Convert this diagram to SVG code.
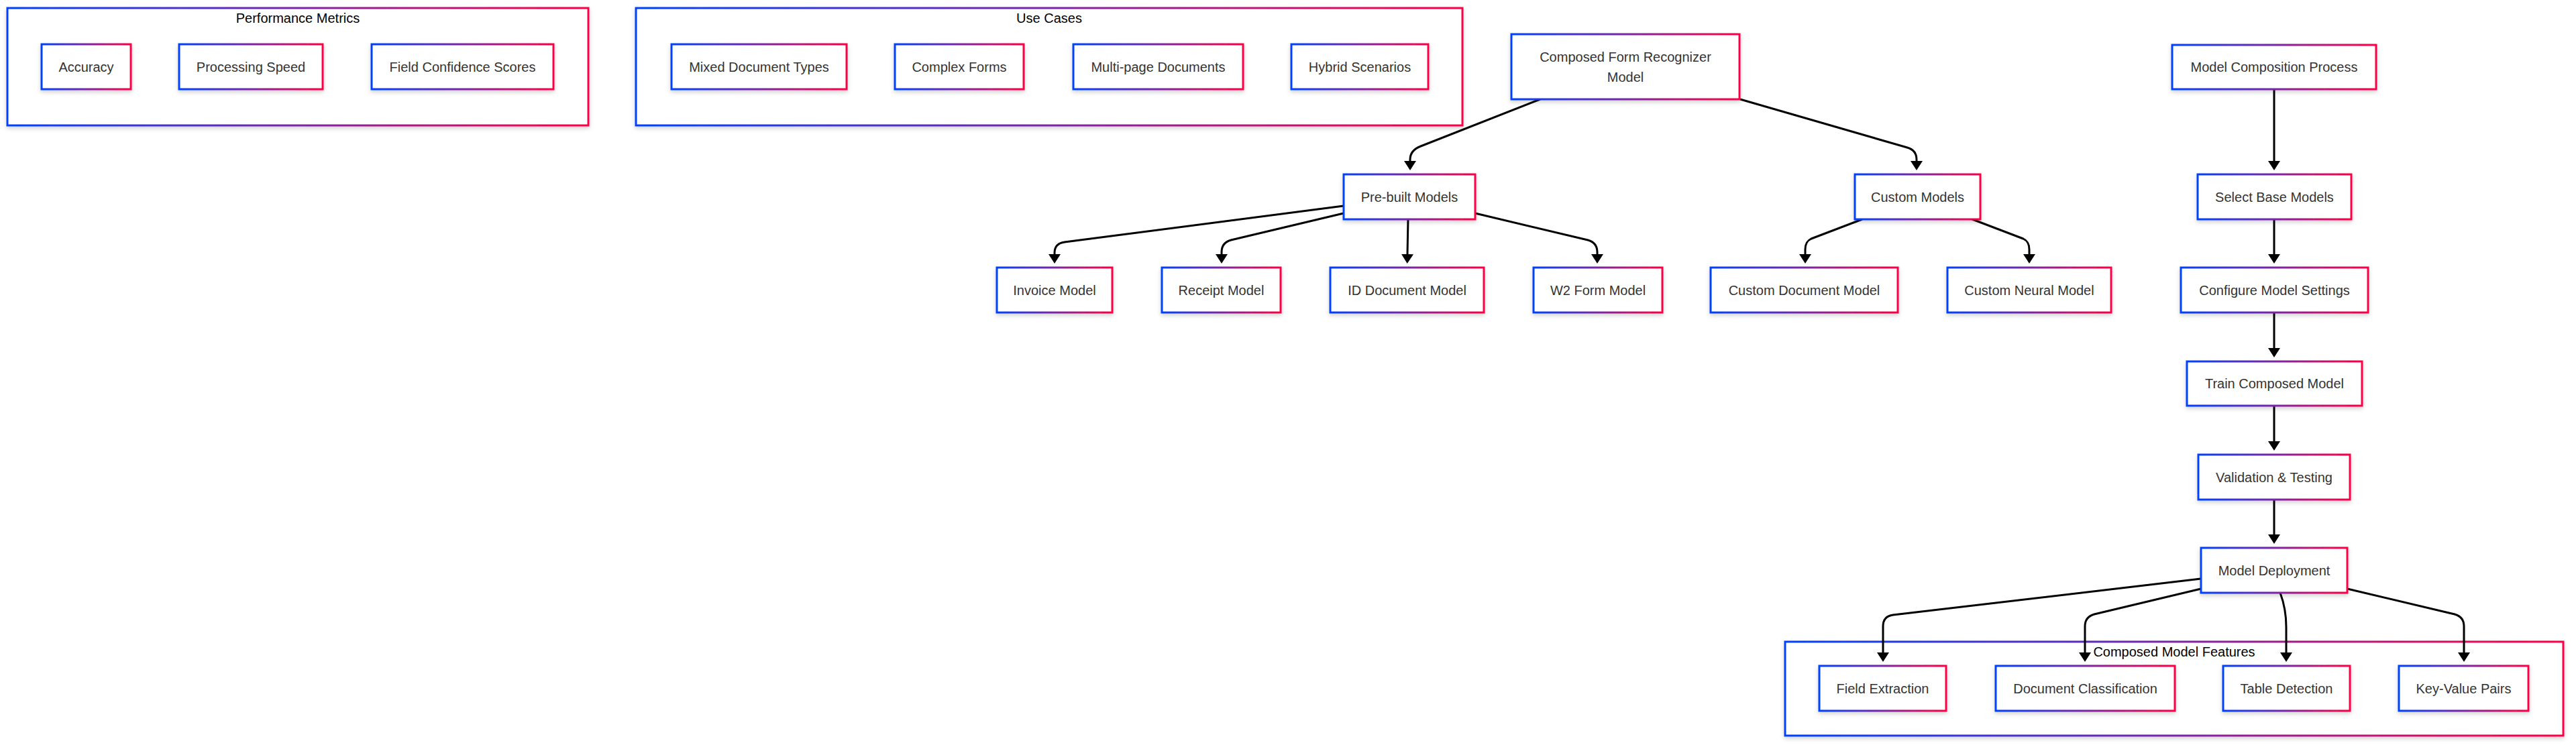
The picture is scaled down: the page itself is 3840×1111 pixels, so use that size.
<svg xmlns="http://www.w3.org/2000/svg" width="3840" height="1111" viewBox="0 0 3840 1111">
<defs>
<linearGradient id="g" x1="0" y1="0" x2="1" y2="0">
<stop offset="0" stop-color="#0040ff"/>
<stop offset="0.5" stop-color="#7a25a5"/>
<stop offset="1" stop-color="#ff0045"/>
</linearGradient>
<filter id="sh" x="-10%" y="-10%" width="120%" height="140%">
<feDropShadow dx="0" dy="3" stdDeviation="3" flood-color="#000" flood-opacity="0.18"/>
</filter>
<marker id="arr" viewBox="0 0 14 18" refX="0" refY="9" markerWidth="14" markerHeight="18" markerUnits="userSpaceOnUse" orient="auto">
<path d="M0,0 L14,9 L0,18 z" fill="#000"/>
</marker>
<style>
rect.b{fill:#fff;stroke:url(#g);stroke-width:3;filter:url(#sh)}
text{font-family:"Liberation Sans",Arial,sans-serif;font-size:20px;text-anchor:middle}
.node text{fill:#333;dominant-baseline:central}
.cluster text{fill:#000}
.edge{fill:none;stroke:#000;stroke-width:3;marker-end:url(#arr)}
</style>
</defs>
<rect width="3840" height="1111" fill="#fff"/>
<g id="clusters">
<g id="cl-perf" class="cluster"><rect class="b" x="11" y="12" width="866" height="175"/><text x="444" y="34">Performance Metrics</text></g>
<g id="cl-use" class="cluster"><rect class="b" x="948" y="12" width="1232" height="175"/><text x="1564" y="34">Use Cases</text></g>
<g id="cl-feat" class="cluster"><rect class="b" x="2661" y="957" width="1160" height="140"/><text x="3241" y="979">Composed Model Features</text></g>
</g>
<g id="edges">
<path class="edge" d="M2296,148 L2118,218 Q2102,224 2102,238 L2102,240"/>
<path class="edge" d="M2594,148 L2843,220 Q2857,224 2857,238 L2857,240"/>
<path class="edge" d="M2003,307 L1587,361 Q1572,363 1572,377 L1572,379"/>
<path class="edge" d="M2003,318 L1835,358 Q1821,362 1821,376 L1821,379"/>
<path class="edge" d="M2099,327 L2098,379"/>
<path class="edge" d="M2199,318 L2367,358 Q2381,362 2381,376 L2381,379"/>
<path class="edge" d="M2776,327 L2700,356 Q2691,360 2691,372 L2691,379"/>
<path class="edge" d="M2940,327 L3016,356 Q3025,360 3025,372 L3025,379"/>
<path class="edge" d="M3390,133 L3390,240"/>
<path class="edge" d="M3390,327 L3390,379"/>
<path class="edge" d="M3390,466 L3390,519"/>
<path class="edge" d="M3390,605 L3390,658"/>
<path class="edge" d="M3390,745 L3390,797"/>
<path class="edge" d="M3281,863 L2822,917 Q2807,919 2807,934 L2807,973"/>
<path class="edge" d="M3281,878 L3122,916 Q3108,920 3108,934 L3108,973"/>
<path class="edge" d="M3399,884 C3405,900 3408,915 3408,935 L3408,973"/>
<path class="edge" d="M3499,878 L3659,916 Q3673,920 3673,934 L3673,973"/>
</g>
<g id="nodes">
<g id="n-accuracy" class="node"><rect class="b" x="62" y="66" width="133" height="67"/><text x="128.5" y="99.5">Accuracy</text></g>
<g id="n-speed" class="node"><rect class="b" x="267" y="66" width="214" height="67"/><text x="374" y="99.5">Processing Speed</text></g>
<g id="n-confidence" class="node"><rect class="b" x="554" y="66" width="271" height="67"/><text x="689.5" y="99.5">Field Confidence Scores</text></g>
<g id="n-mixed" class="node"><rect class="b" x="1001" y="66" width="261" height="67"/><text x="1131.5" y="99.5">Mixed Document Types</text></g>
<g id="n-complex" class="node"><rect class="b" x="1334" y="66" width="192" height="67"/><text x="1430" y="99.5">Complex Forms</text></g>
<g id="n-multipage" class="node"><rect class="b" x="1600" y="66" width="253" height="67"/><text x="1726.5" y="99.5">Multi-page Documents</text></g>
<g id="n-hybrid" class="node"><rect class="b" x="1925" y="66" width="204" height="67"/><text x="2027" y="99.5">Hybrid Scenarios</text></g>
<g id="n-cfr" class="node"><rect class="b" x="2253" y="51" width="340" height="97"/><text x="2423" y="84.5">Composed Form Recognizer</text><text x="2423" y="115">Model</text></g>
<g id="n-mcp" class="node"><rect class="b" x="3238" y="67" width="304" height="66"/><text x="3390" y="100">Model Composition Process</text></g>
<g id="n-prebuilt" class="node"><rect class="b" x="2003" y="260" width="196" height="67"/><text x="2101" y="293.5">Pre-built Models</text></g>
<g id="n-custom" class="node"><rect class="b" x="2765" y="260" width="187" height="67"/><text x="2858.5" y="293.5">Custom Models</text></g>
<g id="n-select" class="node"><rect class="b" x="3276" y="260" width="229" height="67"/><text x="3390.5" y="293.5">Select Base Models</text></g>
<g id="n-invoice" class="node"><rect class="b" x="1486" y="399" width="172" height="67"/><text x="1572" y="432.5">Invoice Model</text></g>
<g id="n-receipt" class="node"><rect class="b" x="1732" y="399" width="177" height="67"/><text x="1820.5" y="432.5">Receipt Model</text></g>
<g id="n-iddoc" class="node"><rect class="b" x="1983" y="399" width="229" height="67"/><text x="2097.5" y="432.5">ID Document Model</text></g>
<g id="n-w2" class="node"><rect class="b" x="2286" y="399" width="192" height="67"/><text x="2382" y="432.5">W2 Form Model</text></g>
<g id="n-customdoc" class="node"><rect class="b" x="2550" y="399" width="279" height="67"/><text x="2689.5" y="432.5">Custom Document Model</text></g>
<g id="n-customneural" class="node"><rect class="b" x="2903" y="399" width="244" height="67"/><text x="3025" y="432.5">Custom Neural Model</text></g>
<g id="n-configure" class="node"><rect class="b" x="3251" y="399" width="279" height="67"/><text x="3390.5" y="432.5">Configure Model Settings</text></g>
<g id="n-train" class="node"><rect class="b" x="3260" y="539" width="261" height="66"/><text x="3390.5" y="572">Train Composed Model</text></g>
<g id="n-validation" class="node"><rect class="b" x="3277" y="678" width="226" height="67"/><text x="3390" y="711.5">Validation &amp; Testing</text></g>
<g id="n-deploy" class="node"><rect class="b" x="3281" y="817" width="218" height="67"/><text x="3390" y="850.5">Model Deployment</text></g>
<g id="n-field" class="node"><rect class="b" x="2712" y="993" width="189" height="67"/><text x="2806.5" y="1026.5">Field Extraction</text></g>
<g id="n-docclass" class="node"><rect class="b" x="2975" y="993" width="267" height="67"/><text x="3108.5" y="1026.5">Document Classification</text></g>
<g id="n-table" class="node"><rect class="b" x="3314" y="993" width="189" height="67"/><text x="3408.5" y="1026.5">Table Detection</text></g>
<g id="n-kv" class="node"><rect class="b" x="3576" y="993" width="193" height="67"/><text x="3672.5" y="1026.5">Key-Value Pairs</text></g>
</g>
</svg>
